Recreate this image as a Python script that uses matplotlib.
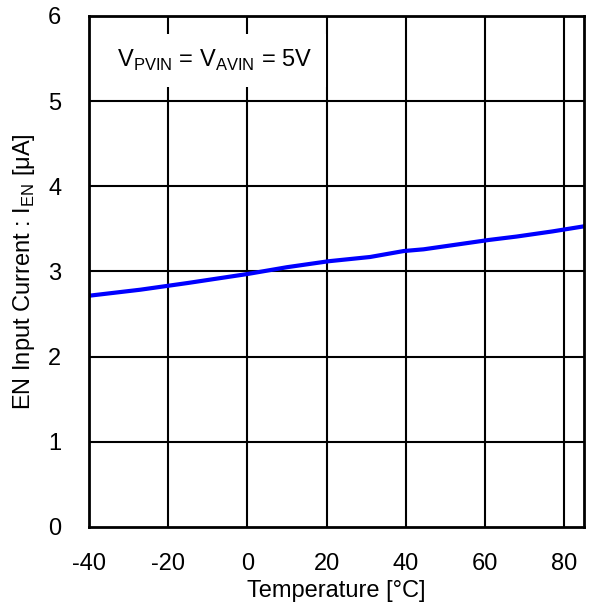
import numpy as np
import matplotlib.pyplot as plt

plt.rcParams['font.family'] = ['Liberation Sans', 'DejaVu Sans']
plt.rcParams['mathtext.fontset'] = 'custom'
plt.rcParams['mathtext.rm'] = 'Liberation Sans'
plt.rcParams['axes.unicode_minus'] = False

#Curve
temp = [-40, -27, -15, 0, 10, 20.5, 31, 39.5, 44.5, 52, 61, 68, 77, 85]#degC
i_en = [2.715, 2.786, 2.865, 2.97, 3.05, 3.12, 3.17, 3.24, 3.26, 3.31, 3.37, 3.41, 3.47, 3.53]#uA

xticks = [-40, -20, 0, 20, 40, 60, 80]
yticks = [0, 1, 2, 3, 4, 5, 6]
fnt = 17

fig = plt.figure(figsize=(5.89, 6.13), dpi=100)
ax = fig.add_axes([0.151, 0.1403, 0.8405, 0.8337])

#grid drawn by hand so the 85 edge and text box behave
for xv in xticks[1:]:
    ax.axvline(xv, color='black', lw=1.5, zorder=1)
for yv in yticks[1:-1]:
    ax.axhline(yv, color='black', lw=1.5, zorder=1)

ax.plot(temp, i_en, color='#0000ff', lw=3, zorder=3)

ax.text(-8.2, 5.48, r'V$_{\mathregular{PVIN}}$ = V$_{\mathregular{AVIN}}$ = 5V', fontsize=fnt,
        ha='center', va='center', zorder=4,
        bbox=dict(facecolor='white', edgecolor='none', pad=10))

ax.set_xlim(-40, 85)
ax.set_ylim(0, 6)
ax.set_xticks(xticks)
ax.set_yticks(yticks)
ax.tick_params(length=0, labelsize=fnt)
ax.tick_params(axis='x', pad=19)
ax.tick_params(axis='y', pad=20)
for sp in ax.spines.values():
    sp.set_linewidth(2)
    sp.set_zorder(5)

ax.set_xlabel('Temperature [°C]', fontsize=fnt, labelpad=3)
ax.set_ylabel(r'EN Input Current : I$_{\mathregular{EN}}$ [μA]', fontsize=fnt)
ax.yaxis.set_label_coords(-0.105, 0.5)

plt.savefig('out.png', dpi=100)
